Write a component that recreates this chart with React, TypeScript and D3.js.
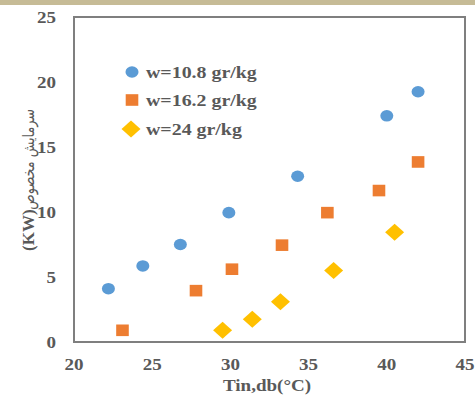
import React from "react";
import * as d3 from "d3";

const xTicks = [20, 25, 30, 35, 40, 45];
const yTicks = [0, 5, 10, 15, 20, 25];

const seriesNames = ["w=10.8 gr/kg", "w=16.2 gr/kg", "w=24 gr/kg"];
const seriesColors = ["#5b9bd5", "#ed7d31", "#ffc000"];
const seriesShapes = ["circle", "square", "diamond"];

const tin108 = [22.2, 24.4, 26.8, 29.9, 34.3, 40.0, 42.0];
const q108 = [4.1, 5.85, 7.5, 9.95, 12.75, 17.4, 19.25];

const tin162 = [23.1, 27.8, 30.1, 33.3, 36.2, 39.5, 42.0];
const q162 = [0.9, 3.95, 5.6, 7.45, 9.95, 11.65, 13.85];

const tin24 = [29.5, 31.4, 33.2, 36.6, 40.5];
const q24 = [0.9, 1.75, 3.1, 5.5, 8.45];

const seriesX = [tin108, tin162, tin24];
const seriesY = [q108, q162, q24];

const yTitleUnit = "(KW)";
const yTitleText = "سرمایش مخصوص";

const W = 475;
const H = 396;
const left = 74;
const right = 465;
const top = 17;
const bottom = 342;

const textColor = "#595959";
const font = "'Liberation Serif', 'Times New Roman', serif";

function Marker({ shape, color, x, y }: { shape: string; color: string; x: number; y: number }) {
  if (shape === "circle") return <ellipse cx={x} cy={y} rx={6.5} ry={5.8} fill={color} />;
  if (shape === "square") return <rect x={x - 6.3} y={y - 5.8} width={12.6} height={11.6} fill={color} />;
  return (
    <path
      d={`M${x},${y - 8.5} L${x + 9.5},${y} L${x},${y + 8.5} L${x - 9.5},${y} Z`}
      fill={color}
    />
  );
}

function SText({ x, y, anchor, children, size = 17, sx = 1.12, weight = "bold", family = font }: any) {
  return (
    <g transform={`translate(${x},${y}) scale(${sx},1)`}>
      <text
        x={0}
        y={0}
        textAnchor={anchor}
        fontFamily={family}
        fontWeight={weight}
        fontSize={size}
        fill={textColor}
      >
        {children}
      </text>
    </g>
  );
}

export default function App() {
  const x = d3.scaleLinear().domain([20, 45]).range([left, right]);
  const y = d3.scaleLinear().domain([0, 25]).range([bottom, top]);

  const legendY = [72, 100, 129];

  return (
    <svg
      width={W}
      height={H}
      style={{ position: "absolute", left: 0, top: 0, background: "#fff" }}
    >
      <rect x={0} y={0} width={W} height={H} fill="#ffffff" />
      <rect x={0} y={0} width={W} height={5} fill="#c6bb96" />

      {/* plot frame */}
      <rect
        x={left}
        y={top}
        width={right - left}
        height={bottom - top}
        fill="none"
        stroke="#7f7f7f"
        strokeWidth={2}
      />

      {/* y tick labels */}
      {yTicks.map((t) => (
        <SText key={"y" + t} x={56} y={y(t) + 6} anchor="end">
          {String(t)}
        </SText>
      ))}

      {/* x tick labels */}
      {xTicks.map((t) => (
        <SText key={"x" + t} x={x(t)} y={370} anchor="middle">
          {String(t)}
        </SText>
      ))}

      {/* x axis title */}
      <SText x={267} y={391} anchor="middle">
        Tin,db(°C)
      </SText>

      {/* y axis title */}
      <g transform={`translate(34,0) rotate(-90)`}>
        <SText x={-251} y={0} anchor="start" sx={1}>
          {yTitleUnit}
        </SText>
        <SText
          x={-109}
          y={0}
          anchor="end"
          sx={0.8}
          size={16}
          weight="normal"
          family="'DejaVu Sans', sans-serif"
        >
          {yTitleText}
        </SText>
      </g>

      {/* data */}
      {seriesX.map((xs, si) => (
        <g key={"s" + si}>
          {xs.map((xv, i) => (
            <Marker
              key={i}
              shape={seriesShapes[si]}
              color={seriesColors[si]}
              x={x(xv)}
              y={y(seriesY[si][i])}
            />
          ))}
        </g>
      ))}

      {/* legend */}
      {seriesNames.map((name, i) => (
        <g key={"l" + i}>
          <Marker
            shape={seriesShapes[i]}
            color={seriesColors[i]}
            x={i === 2 ? 131 : 132}
            y={legendY[i]}
          />
          <SText x={146} y={legendY[i] + 6} anchor="start" sx={1.17}>
            {name}
          </SText>
        </g>
      ))}
    </svg>
  );
}
